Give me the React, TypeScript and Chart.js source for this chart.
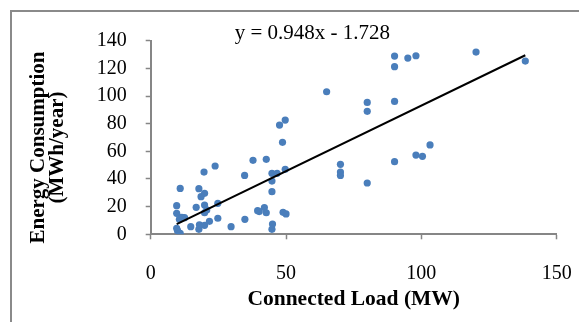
import React, { useEffect, useRef } from "react";
import { Chart, registerables } from "chart.js";

Chart.register(...registerables);

const connectedLoad = [
  9.6, 9.6, 10.9, 11.5, 10.6, 9.6, 9.9, 10.9, 12.5, 14.8,
  16.8, 17.8, 17.8, 18.0, 18.6, 19.9, 19.7, 19.9, 19.9, 20.7,
  19.9, 21.7, 23.8, 24.8, 24.8, 29.7, 34.7, 34.8, 37.8, 39.5,
  40.1, 42.0, 42.7, 42.7, 44.8, 44.8, 44.8, 45.0, 44.8, 46.7,
  49.7, 49.7, 47.6, 48.7, 48.9, 50.0, 65.0, 70.1, 70.1, 70.1,
  80.0, 80.0, 80.0, 90.1, 90.1, 90.1, 90.1, 95.0, 98.0, 98.0,
  100.4, 103.2, 120.2, 138.4,
];
const energyConsumption = [
  20.7, 15.2, 33.2, 12.3, 10.8, 4.3, 2.6, 0.7, 12.0, 5.5,
  19.5, 33.0, 3.6, 6.9, 27.2, 29.6, 45.0, 21.2, 15.6, 17.6,
  6.5, 9.4, 49.4, 22.4, 11.6, 5.5, 42.6, 10.8, 53.5, 17.1,
  16.4, 19.3, 15.6, 54.2, 44.1, 38.5, 30.8, 7.4, 3.6, 44.1,
  47.0, 82.6, 79.0, 66.5, 15.9, 14.7, 103.1, 50.6, 45.0, 42.6,
  95.4, 88.9, 37.1, 128.9, 121.2, 96.1, 52.5, 127.4, 129.1, 57.3,
  56.4, 64.6, 131.8, 125.3,
];
const trendSlope = 0.948;
const trendIntercept = -1.728;
const equationLabel = "y = 0.948x - 1.728";
const xTitle = "Connected Load (MW)";
const yTitle = ["Energy Consumption", "(MWh/year)"];

const SERIF = "'Liberation Serif', 'Times New Roman', serif";
const AXIS_GRAY = "#868686";

export default function App() {
  const ref = useRef<HTMLCanvasElement | null>(null);

  useEffect(() => {
    if (!ref.current) return;
    const points = connectedLoad.map((x, i) => ({ x, y: energyConsumption[i] }));
    const xMin = Math.min(...connectedLoad);
    const xMax = Math.max(...connectedLoad);
    const trend = [
      { x: xMin, y: trendSlope * xMin + trendIntercept },
      { x: xMax, y: trendSlope * xMax + trendIntercept },
    ];

    const framePlugin = {
      id: "frame",
      beforeDraw(chart: any) {
        const ctx = chart.ctx;
        ctx.save();
        ctx.fillStyle = "#ffffff";
        ctx.fillRect(0, 0, chart.width, chart.height);
        ctx.strokeStyle = "#8a8a8a";
        ctx.lineWidth = 2;
        ctx.strokeRect(11, 11, chart.width + 50, chart.height + 50);
        ctx.restore();
      },
      afterDraw(chart: any) {
        const ctx = chart.ctx;
        const a = chart.chartArea;
        ctx.save();
        ctx.fillStyle = "#000000";
        // regression equation
        ctx.font = `21px ${SERIF}`;
        ctx.textAlign = "left";
        ctx.textBaseline = "middle";
        ctx.fillText(equationLabel, a.left + 84, a.top - 7);
        // y-axis title, two rotated lines
        ctx.font = `bold 21px ${SERIF}`;
        ctx.textAlign = "center";
        const cy = (a.top + a.bottom) / 2 + 10;
        yTitle.forEach((line, i) => {
          ctx.save();
          ctx.translate(a.left - 112 + i * 19, cy);
          ctx.rotate(-Math.PI / 2);
          ctx.fillText(line, 0, 0);
          ctx.restore();
        });
        ctx.restore();
      },
    };

    const chart = new Chart(ref.current, {
      type: "scatter",
      data: {
        datasets: [
          {
            label: "Energy",
            data: points,
            backgroundColor: "#4a7ebb",
            borderWidth: 0,
            pointRadius: 3.6,
            pointHoverRadius: 3.6,
            order: 2,
          },
          {
            type: "line",
            label: "Trend",
            data: trend,
            borderColor: "#000000",
            borderWidth: 2,
            pointRadius: 0,
            fill: false,
            order: 1,
          } as any,
        ],
      },
      options: {
        animation: false,
        responsive: false,
        events: [],
        layout: { padding: { left: 0, top: 40.7, right: 22.3, bottom: 0 } },
        plugins: {
          legend: { display: false },
          tooltip: { enabled: false },
        },
        scales: {
          x: {
            type: "linear",
            min: 0,
            max: 150,
            afterFit(scale: any) {
              scale.height = 87.7;
              scale.paddingLeft = 0;
              scale.paddingRight = 0;
            },
            ticks: {
              stepSize: 50,
              color: "#000000",
              padding: 22,
              font: { family: SERIF, size: 20 },
            },
            grid: {
              drawOnChartArea: false,
              drawTicks: true,
              tickLength: 5,
              tickColor: AXIS_GRAY,
              tickWidth: 1.5,
            },
            border: { display: true, color: AXIS_GRAY, width: 2 },
            title: {
              display: true,
              text: xTitle,
              color: "#000000",
              font: { family: SERIF, size: 21.5, weight: "bold" },
              padding: { top: 0, bottom: 9.4 },
            },
          },
          y: {
            type: "linear",
            min: 0,
            max: 140,
            afterFit(scale: any) {
              scale.width = 150.7;
            },
            ticks: {
              stepSize: 20,
              color: "#000000",
              padding: 19,
              font: { family: SERIF, size: 20 },
            },
            grid: {
              drawOnChartArea: false,
              drawTicks: true,
              tickLength: 5,
              tickColor: AXIS_GRAY,
              tickWidth: 1.5,
            },
            border: { display: true, color: AXIS_GRAY, width: 2 },
            title: { display: false },
          },
        },
      },
      plugins: [framePlugin],
    });
    return () => chart.destroy();
  }, []);

  return (
    <canvas
      ref={ref}
      width={579}
      height={322}
      style={{ position: "fixed", left: 0, top: 0, width: 579, height: 322 }}
    />
  );
}
